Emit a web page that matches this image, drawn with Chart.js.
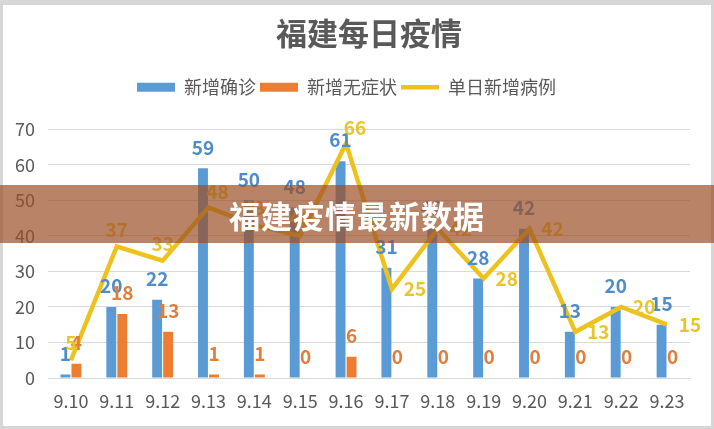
<!DOCTYPE html>
<html><head><meta charset="utf-8">
<script src="https://cdn.jsdelivr.net/npm/chart.js@4.4.0/dist/chart.umd.min.js"></script>
<style>
html,body{margin:0;padding:0;background:#d6d6d6;width:714px;height:429px;overflow:hidden;}
#wrap{position:absolute;left:3px;top:5px;width:708px;height:421px;background:#fff;}
#banner{position:absolute;left:0;top:185px;width:714px;height:58px;background:rgba(155,78,38,0.7);display:flex;align-items:center;justify-content:center;color:#fff;font-weight:bold;font-size:31px;font-family:"Noto Sans CJK SC",sans-serif;letter-spacing:1px;}
</style></head><body>
<div id="wrap"><canvas id="c"></canvas></div>
<div id="banner">福建疫情最新数据</div>
<script>
const categories = ['9.10','9.11','9.12','9.13','9.14','9.15','9.16','9.17','9.18','9.19','9.20','9.21','9.22','9.23'];
const confirmed = [1,20,22,59,50,48,61,31,42,28,42,13,20,15];
const asymptomatic = [4,18,13,1,1,0,6,0,0,0,0,0,0,0];
const dailyTotal = [5,37,33,48,43,40,66,25,42,28,42,13,20,15];
const yTicks = [0,10,20,30,40,50,60,70];
const seriesNames = ['新增确诊','新增无症状','单日新增病例'];

const FONT = '"Noto Sans CJK SC", sans-serif';
const lineLabelSide = ['top','top','top','topright','top','top','topright','right','right','right','right','right','right','right'];

const valueLabels = {
  id: 'valueLabels',
  afterDatasetsDraw(chart) {
    const ctx = chart.ctx;
    chart.data.datasets.forEach((ds, i) => {
      const meta = chart.getDatasetMeta(i);
      if (!chart.isDatasetVisible(i)) return;
      ctx.save();
      ctx.font = '600 19px ' + FONT;
      ctx.fillStyle = ds.labelColor;
      ctx.textAlign = 'center';
      ctx.textBaseline = 'middle';
      meta.data.forEach((el, j) => {
        const v = ds.data[j];
        let x = el.x, y = el.y;
        if (ds.type === 'line') {
          const side = lineLabelSide[j];
          if (side === 'top') { y -= 17; }
          else if (side === 'topright') { y -= 16; x += 9; }
          else { x += 23; }
        } else {
          y -= 21;
        }
        ctx.fillText(String(v), x, y);
      });
      ctx.restore();
    });
  }
};

const legendGap = {
  id: 'legendGap',
  beforeInit(chart) {
    const orig = chart.legend.fit;
    chart.legend.fit = function () { orig.call(this); this.height += 23; };
  }
};

new Chart(document.getElementById('c'), {
  data: {
    labels: categories,
    datasets: [
      { type: 'bar', label: seriesNames[0], data: confirmed, backgroundColor: '#5b9bd5', labelColor: '#4f8cc9',
        categoryPercentage: 0.48, barPercentage: 0.9, order: 1, pointStyle: 'rect' },
      { type: 'bar', label: seriesNames[1], data: asymptomatic, backgroundColor: '#ed7d31', labelColor: '#e07f3c',
        categoryPercentage: 0.48, barPercentage: 0.9, order: 1, pointStyle: 'rect' },
      { type: 'line', label: seriesNames[2], data: dailyTotal, borderColor: '#eec21c', backgroundColor: '#eec21c', labelColor: '#e9c52a',
        borderWidth: 4.5, pointRadius: 0, pointStyle: 'line', tension: 0, order: 0 }
    ]
  },
  options: {
    responsive: true,
    maintainAspectRatio: false,
    animation: false,
    layout: { padding: { left: 0, right: 21, top: 0, bottom: 0 } },
    plugins: {
      title: { display: true, text: '福建每日疫情', color: '#595959', fullSize: false,
        font: { family: FONT, size: 31, weight: 'bold' }, padding: { top: 10, bottom: 22 } },
      legend: { display: true, position: 'top',
        labels: { usePointStyle: true, pointStyleWidth: 38, boxHeight: 9, color: '#595959', padding: 4,
          font: { family: FONT, size: 18 },
          sort: (a, b) => a.datasetIndex - b.datasetIndex } },
      tooltip: { enabled: false }
    },
    scales: {
      x: {
        grid: { display: false, drawTicks: false },
        border: { display: true, color: '#d9d9d9' },
        ticks: { color: '#595959', font: { family: FONT, size: 18 }, padding: 12, maxRotation: 0, autoSkip: false },
        afterFit(scale) { scale.height = 48; }
      },
      y: {
        min: yTicks[0], max: yTicks[yTicks.length - 1],
        ticks: { stepSize: yTicks[1] - yTicks[0], color: '#595959', font: { family: FONT, size: 18 }, padding: 13 },
        grid: { color: '#d9d9d9', drawTicks: false, lineWidth: 1 },
        border: { display: false },
        afterFit(scale) { scale.width = 45; }
      }
    }
  },
  plugins: [valueLabels, legendGap]
});
</script>
</body></html>
